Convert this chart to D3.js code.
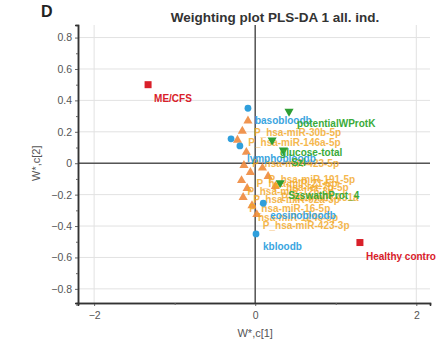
<!DOCTYPE html>
<html>
<head>
<meta charset="utf-8">
<script src="https://cdn.jsdelivr.net/npm/d3@7"></script>
<style>
  body { margin: 0; background: #fff; }
  svg { font-family: "Liberation Sans", Arial, sans-serif; }
</style>
</head>
<body>
<svg id="chart" width="436" height="347"></svg>
<script>
// x / y ticks
var xTicks = [-2, 0, 2];
var yTicks = [-0.8, -0.6, -0.4, -0.2, 0, 0.2, 0.4, 0.6, 0.8];

// classes (red squares)
var classNames = ["ME/CFS", "Healthy control"];
var classX = [-1.33, 1.30];
var classY = [0.50, -0.505];

// blood cell variables (blue circles)
var bloodNames = ["basobloodb", "", "lymphobloodb", "eosinobloodb", "kbloodb"];
var bloodX = [-0.09, -0.30, -0.19, 0.10, 0.01];
var bloodY = [0.35, 0.155, 0.11, -0.255, -0.45];

// protein variables (green triangles)
var protNames = ["potentialWProtK", "glucose-total", "Szl", "SzswathProt_4"];
var protX = [0.42, 0.21, 0.35, 0.31];
var protY = [0.33, 0.147, 0.083, -0.125];

// miRNA variables (orange triangles)
var mirNames = ["P_hsa-miR-30b-5p", "P_hsa-miR-146a-5p", "", "P_hsa-miR-423-5p", "",
  "P_hsa-miR-21-5p", "P_hsa-miR-126-3p", "P_hsa-miR-92a-3p", "P_hsa-miR-16-5p",
  "hsa-miR-1246-5p", "P_hsa-miR-423-3p", "P_hsa-miR-191-5p", "P_hsa-let-7b-5p", "P_hsa-miR-451a"];
var mirX = [-0.09, -0.16, -0.22, -0.11, -0.14, -0.06, -0.17, -0.10, -0.15, -0.04, 0.02, 0.09, 0.16, 0.25];
var mirY = [0.27, 0.205, 0.147, 0.07, -0.013, -0.058, -0.11, -0.16, -0.217, -0.27, -0.326, -0.03, -0.083, -0.147];

function rows(names, xs, ys) {
  return names.map((n, i) => ({name: n, x: xs[i], y: ys[i]}));
}

var svg = d3.select("#chart");

var x = d3.scaleLinear().domain([-2.2, 2.17]).range([78, 430]);
var y = d3.scaleLinear().domain([-0.89, 0.88]).range([303, 25]);

var defs = svg.append("defs");
defs.append("clipPath").attr("id", "plot")
  .append("rect").attr("x", 78).attr("y", 25).attr("width", 358).attr("height", 278);

// grid
var grid = svg.append("g");
grid.selectAll("line.h").data(yTicks).enter().append("line")
  .attr("x1", 78).attr("x2", 430).attr("y1", d => y(d)).attr("y2", d => y(d))
  .attr("stroke", "#e2e2e2").attr("stroke-width", 1);
grid.selectAll("line.v").data(xTicks).enter().append("line")
  .attr("y1", 25).attr("y2", 303).attr("x1", d => x(d)).attr("x2", d => x(d))
  .attr("stroke", "#e2e2e2").attr("stroke-width", 1);

// zero lines
svg.append("line").attr("x1", 78).attr("x2", 430).attr("y1", y(0)).attr("y2", y(0))
  .attr("stroke", "#555").attr("stroke-width", 1.5);
svg.append("line").attr("y1", 25).attr("y2", 303).attr("x1", x(0)).attr("x2", x(0))
  .attr("stroke", "#555").attr("stroke-width", 1.5);

// axes
var yAxis = svg.append("g").attr("transform", "translate(78,0)")
  .call(d3.axisLeft(y).tickValues(yTicks).tickSize(3).tickFormat(d => d === 0 ? "0" : d3.format(".1f")(d)));
var yMinor = svg.append("g").attr("transform", "translate(78,0)")
  .call(d3.axisLeft(y).tickValues(d3.range(-0.9, 0.9, 0.1).filter(v => yTicks.every(t => Math.abs(t - v) > 0.01))).tickSize(2).tickFormat(""));
var xAxis = svg.append("g").attr("transform", "translate(0,303)")
  .call(d3.axisBottom(x).tickValues(xTicks).tickSize(3).tickFormat(d3.format("d")));
var xMinor = svg.append("g").attr("transform", "translate(0,303)")
  .call(d3.axisBottom(x).tickValues([-1, 1]).tickSize(2).tickFormat(""));

[yAxis, yMinor, xAxis, xMinor].forEach(g => {
  g.select(".domain").attr("stroke", "#333").attr("stroke-width", 1.5);
  g.selectAll(".tick line").attr("stroke", "#666");
  g.selectAll("text").attr("fill", "#555").attr("font-size", 10.5)
    .attr("font-family", "Liberation Sans, Arial, sans-serif");
});
xAxis.selectAll("text").attr("dy", "0.95em");

// titles
svg.append("text").attr("x", 41).attr("y", 17).text("D")
  .attr("font-weight", "bold").attr("font-size", 16).attr("fill", "#222");
svg.append("text").attr("x", 275).attr("y", 22).attr("text-anchor", "middle")
  .text("Weighting plot PLS-DA 1 all. ind.")
  .attr("font-weight", "bold").attr("font-size", 13.5).attr("fill", "#333");
svg.append("text").attr("x", x(0)).attr("y", 337).attr("text-anchor", "middle")
  .text("W*,c[1]").attr("font-size", 11).attr("fill", "#555");
svg.append("text").attr("transform", "translate(40," + y(0) + ") rotate(-90)")
  .attr("text-anchor", "middle").text("W*,c[2]").attr("font-size", 11).attr("fill", "#555");

var plot = svg.append("g").attr("clip-path", "url(#plot)")
  .attr("font-size", 10).attr("font-weight", "bold");

var tri = d3.symbol().type(d3.symbolTriangle).size(36);

// miRNA
var mir = rows(mirNames, mirX, mirY);
plot.selectAll("path.mir").data(mir).enter().append("path")
  .attr("d", tri).attr("transform", d => `translate(${x(d.x)},${y(d.y)})`)
  .attr("fill", "#ee8a3e").attr("opacity", 0.9);
plot.selectAll("text.mir").data(mir).enter().append("text")
  .attr("x", d => x(d.x) + 6).attr("y", d => y(d.y) + 15)
  .text(d => d.name).attr("fill", "#f3a71f").attr("opacity", 0.8);

// blood
var blood = rows(bloodNames, bloodX, bloodY);
plot.selectAll("circle.blood").data(blood).enter().append("circle")
  .attr("cx", d => x(d.x)).attr("cy", d => y(d.y)).attr("r", 3.4)
  .attr("fill", "#2f9fdc");
plot.selectAll("text.blood").data(blood).enter().append("text")
  .attr("x", d => x(d.x) + 7).attr("y", d => y(d.y) + 16)
  .text(d => d.name).attr("fill", "#3aa5e0");

// proteins
var prot = rows(protNames, protX, protY);
plot.selectAll("path.prot").data(prot).enter().append("path")
  .attr("d", tri).attr("transform", d => `translate(${x(d.x)},${y(d.y)}) rotate(180)`)
  .attr("fill", "#2e9e33");
plot.selectAll("text.prot").data(prot).enter().append("text")
  .attr("x", d => x(d.x) + 8).attr("y", d => y(d.y) + 16)
  .text(d => d.name).attr("fill", "#3aab3a");

// classes
var cls = rows(classNames, classX, classY);
plot.selectAll("rect.cls").data(cls).enter().append("rect")
  .attr("x", d => x(d.x) - 3.5).attr("y", d => y(d.y) - 3.5)
  .attr("width", 7).attr("height", 7).attr("fill", "#d9202a");
plot.selectAll("text.cls").data(cls).enter().append("text")
  .attr("x", d => x(d.x) + 6).attr("y", d => y(d.y) + 17)
  .text(d => d.name).attr("fill", "#d9202a");
</script>
</body>
</html>
